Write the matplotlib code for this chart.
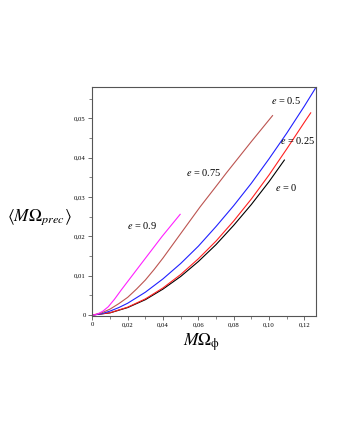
import matplotlib
matplotlib.use("Agg")
import matplotlib.pyplot as plt
from matplotlib.ticker import MultipleLocator, FuncFormatter

# e = 0
x_e0 = [0, 0.01, 0.02, 0.03, 0.04, 0.05, 0.06, 0.07, 0.08, 0.09, 0.10, 0.1087]
y_e0 = [0, 0.00055, 0.0019, 0.0039, 0.0066, 0.0098, 0.0136, 0.0179, 0.0228, 0.0281, 0.0339, 0.0394]

# e = 0.25
x_e025 = [0, 0.01, 0.02, 0.03, 0.04, 0.05, 0.06, 0.07, 0.08, 0.09, 0.10, 0.11, 0.12, 0.1236]
y_e025 = [0, 0.00058, 0.0020, 0.0041, 0.0069, 0.0103, 0.0143, 0.0188, 0.0239, 0.0295, 0.0356, 0.0422, 0.0490, 0.0514]

# e = 0.5
x_e05 = [0, 0.005, 0.01, 0.015, 0.02, 0.03, 0.04, 0.05, 0.06, 0.07, 0.08, 0.09, 0.10, 0.11, 0.12, 0.1262]
y_e05 = [0, 0.0003, 0.0010, 0.0019, 0.0030, 0.0058, 0.0092, 0.0131, 0.0175, 0.0225, 0.0278, 0.0335, 0.0397, 0.0462, 0.0531, 0.0576]

# e = 0.75
x_e075 = [0, 0.005, 0.01, 0.015, 0.02, 0.025, 0.03, 0.035, 0.04, 0.05, 0.061, 0.07, 0.076, 0.09, 0.102]
y_e075 = [0, 0.0005, 0.0015, 0.0029, 0.0045, 0.0066, 0.0089, 0.0116, 0.0145, 0.0207, 0.0275, 0.0327, 0.0362, 0.0441, 0.0507]

# e = 0.9
x_e09 = [0, 0.002, 0.004, 0.006, 0.009, 0.0125, 0.0164, 0.0259, 0.0298, 0.0395, 0.0497]
y_e09 = [0, 0.0001, 0.0005, 0.0010, 0.0021, 0.0040, 0.0064, 0.0120, 0.0143, 0.0200, 0.0256]

curve_labels = ["$e$ = 0", "$e$ = 0.25", "$e$ = 0.5", "$e$ = 0.75", "$e$ = 0.9"]
label_x = [0.1096, 0.1161, 0.1095, 0.0629, 0.0284]
label_y = [0.0325, 0.0445, 0.0545, 0.0363, 0.0227]

plt.rcParams['font.family'] = ['Liberation Serif', 'DejaVu Serif']
plt.rcParams['mathtext.fontset'] = 'stix'


def comma_fmt(v, pos):
    if abs(v) < 1e-9:
        return "0"
    return "{:.2f}".format(v).replace(".", ",")


def main():
    fig = plt.figure(figsize=(3.4, 4.4), dpi=100)
    ax = fig.add_axes([0.2706, 0.2818, 0.6588, 0.5198])

    ax.plot(x_e0, y_e0, color='black', lw=0.8)
    ax.plot(x_e025, y_e025, color='#ff2020', lw=0.8)
    ax.plot(x_e05, y_e05, color='#2020ff', lw=0.8)
    ax.plot(x_e075, y_e075, color='#bc5450', lw=0.8)
    ax.plot(x_e09, y_e09, color='#ff20ff', lw=0.8)

    # 曲线标签
    for t, lx, ly in zip(curve_labels, label_x, label_y):
        ax.text(lx, ly, t, fontsize=7.5, ha='center', va='center')

    ax.set_xlim(-0.0002, 0.1266)
    ax.set_ylim(-0.00025, 0.0579)

    ax.xaxis.set_major_locator(MultipleLocator(0.02))
    ax.xaxis.set_minor_locator(MultipleLocator(0.01))
    ax.yaxis.set_major_locator(MultipleLocator(0.01))
    ax.yaxis.set_minor_locator(MultipleLocator(0.005))
    ax.xaxis.set_major_formatter(FuncFormatter(comma_fmt))
    ax.yaxis.set_major_formatter(FuncFormatter(comma_fmt))

    ax.tick_params(which='major', direction='out', length=3, width=0.6,
                   color='#555555', labelsize=4.8, pad=1.5)
    ax.tick_params(which='minor', direction='out', length=2, width=0.5, color='#555555')
    for s in ax.spines.values():
        s.set_color('#555555')
        s.set_linewidth(0.8)

    # 坐标轴标签
    fig.text(0.115, 0.507, r'$\left\langle M\mathit{\Omega}_{prec}\right\rangle$',
             fontsize=12.5, ha='center', va='center')
    fig.text(0.594, 0.222, r'$M\mathit{\Omega}_{\mathrm{\phi}}$', fontsize=12.5,
             ha='center', va='center')

    fig.savefig("out.png", dpi=100)
    plt.close()


if __name__ == "__main__":
    main()
